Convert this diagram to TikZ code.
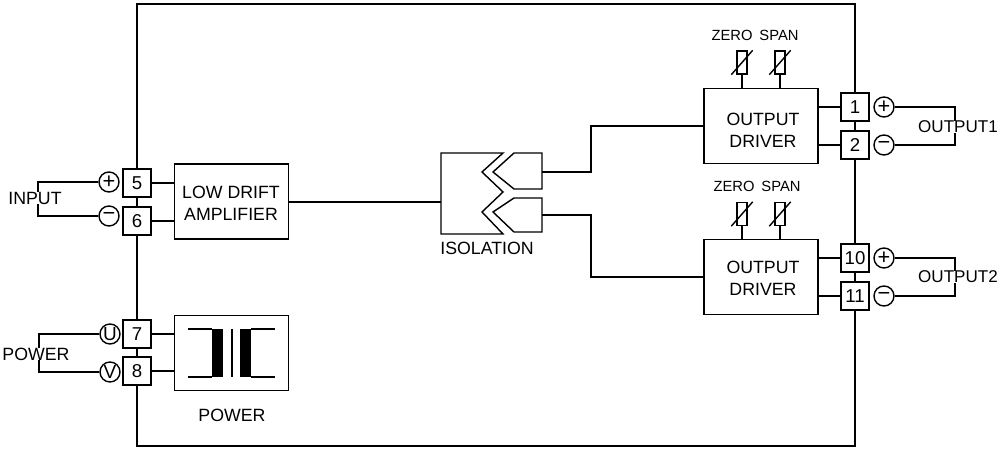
\documentclass[tikz,border=0pt]{standalone}
\usepackage{fontspec}
\setmainfont{Liberation Sans}
\usetikzlibrary{calc}

\tikzset{
  wire/.style={line width=0.8pt},
  lbl/.style={font=\fontsize{10.1}{12.6}\selectfont,align=center,inner sep=0pt},
  lblout/.style={font=\fontsize{9.7}{12}\selectfont,fill=white,inner sep=0pt},
  lblsm/.style={font=\fontsize{8.4}{10}\selectfont,inner sep=0pt},
  blockbox/.style={draw,wire,fill=white,minimum width=2.28cm,minimum height=1.5cm,inner sep=0pt},
  termbox/.style={draw,wire,fill=white,minimum size=0.56cm,inner sep=0pt,font=\fontsize{10.6}{12}\selectfont},
  signdot/.style={draw,wire,circle,fill=white,minimum size=0.4cm,inner sep=0pt,font=\fontsize{12.4}{14}\selectfont},
  letterdot/.style={signdot,font=\fontsize{10.8}{12}\selectfont},
  potbox/.style={draw,wire,minimum width=0.2cm,minimum height=0.46cm,inner sep=0pt},
}

\begin{document}
\begin{tikzpicture}[x=0.02cm,y=-0.02cm,wire]
\useasboundingbox (0,0) rectangle (1001,449);

% housing
\draw (137,4) rectangle (855,446);

% terminals
\node[termbox] (t5) at (137,183) {5};
\node[termbox] (t6) at (137,221) {6};
\node[termbox] (t7) at (137,334) {7};
\node[termbox] (t8) at (137,371) {8};
\node[termbox] (t1) at (855,107) {1};
\node[termbox] (t2) at (855,145) {2};
\node[termbox] (t10) at (855,258) {10};
\node[termbox] (t11) at (855,296) {11};

% blocks
\node[blockbox] (amp) at (231.5,201.5) {};
\node[blockbox] (pwr) at (231.5,353) {};
\node[blockbox] (drv1) at (761,126) {};
\node[blockbox] (drv2) at (761,277) {};
\node[lbl] (amplbl) at (231,203) {LOW DRIFT\\AMPLIFIER};
\node[lbl] (drv1lbl) at (763,130) {OUTPUT\\DRIVER};
\node[lbl] (drv2lbl) at (763,278) {OUTPUT\\DRIVER};
\node[lbl] (pwrlbl) at (232,415) {POWER};
\node[lbl] (isolbl) at (487,248) {ISOLATION};

% left side
\node[signdot] (ip) at (109,182) {+};
\node[signdot] (im) at (109,216) {−};
\node[letterdot] (pu) at (110,334) {U};
\node[letterdot] (pv) at (110,372) {V};
\coordinate (inw) at (38,199);
\coordinate (pww) at (39,353);
\draw (ip) -| (inw);
\draw (im) -| (inw);
\draw (pu) -| (pww);
\draw (pv) -| (pww);
\node[lbl,fill=white] (inlbl) at (35,198) {INPUT};
\node[lbl,fill=white] (pwlbl) at (36,354) {POWER};

\draw (t5) -- (t5 -| amp.west);
\draw (t6) -- (t6 -| amp.west);
\draw (t7) -- (t7 -| pwr.west);
\draw (t8) -- (t8 -| pwr.west);

% transformer
\fill (212,329) rectangle (223,377);
\fill (240,329) rectangle (251,377);
\draw (188,329) -- (212,329);
\draw (188,377) -- (212,377);
\draw (251,329) -- (275,329);
\draw (251,377) -- (275,377);
\draw (232,329) -- (232,377);

% isolation
\coordinate (isoin) at (441,202);
\coordinate (isoa) at (542,172);
\coordinate (isob) at (542,215);
\draw (441,153) -- (503,153) -- (482,172) -- (503,192) -- (482,212) -- (503,234) -- (441,234) -- cycle;
\draw (493,172) -- (514,153) -- (542,153) -- (542,189) -- (514,189) -- cycle;
\draw (493,212) -- (514,198) -- (542,198) -- (542,232) -- (514,232) -- cycle;
\draw (amp.east |- isoin) -- (isoin);
\draw (isoa) -- (591,172) |- (drv1.west);
\draw (isob) -- (591,215) |- (drv2.west);

% right side
\draw (drv1.east |- t1) -- (t1);
\draw (drv1.east |- t2) -- (t2);
\draw (drv2.east |- t10) -- (t10);
\draw (drv2.east |- t11) -- (t11);
\node[signdot] (op1) at (884,107) {+};
\node[signdot] (om1) at (884,145) {−};
\node[signdot] (op2) at (884,258) {+};
\node[signdot] (om2) at (884,296) {−};
\coordinate (o1e) at (955,126);
\coordinate (o2e) at (955,277);
\draw (op1) -| (o1e);
\draw (om1) -| (o1e);
\draw (op2) -| (o2e);
\draw (om2) -| (o2e);
\node[lblout] (o1lbl) at (958,127) {OUTPUT1};
\node[lblout] (o2lbl) at (958,277) {OUTPUT2};

% trimmers
\node[potbox] (z1) at (742,62.5) {};
\node[potbox] (s1) at (780,62.5) {};
\node[potbox] (z2) at (742,214) {};
\node[potbox] (s2) at (780,214) {};
\draw (z1) -- (z1 |- drv1.north);
\draw (s1) -- (s1 |- drv1.north);
\draw (z2) -- (z2 |- drv2.north);
\draw (s2) -- (s2 |- drv2.north);
\draw ([shift={(-5,0)}]z1.south west) -- ([shift={(5,0)}]z1.north east);
\draw ([shift={(-5,0)}]s1.south west) -- ([shift={(5,0)}]s1.north east);
\draw ([shift={(-5,0)}]z2.south west) -- ([shift={(5,0)}]z2.north east);
\draw ([shift={(-5,0)}]s2.south west) -- ([shift={(5,0)}]s2.north east);
\node[lblsm] (zl1) at (732,35) {ZERO};
\node[lblsm] (sl1) at (779,35) {SPAN};
\node[lblsm] (zl2) at (734,186) {ZERO};
\node[lblsm] (sl2) at (781,186) {SPAN};

\end{tikzpicture}
\end{document}
